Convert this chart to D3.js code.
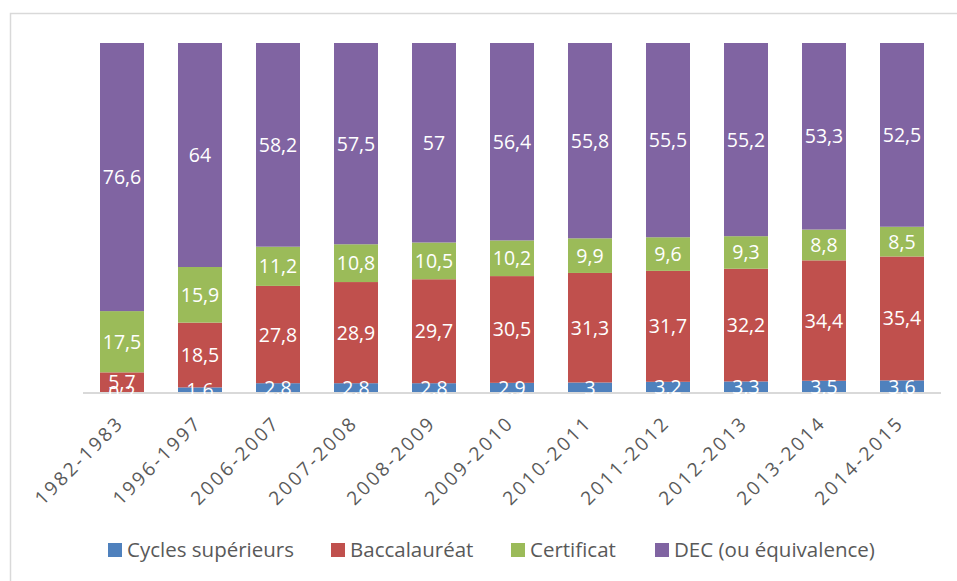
<!DOCTYPE html>
<html>
<head>
<meta charset="utf-8">
<script src="https://cdn.jsdelivr.net/npm/d3@7"></script>
<style>
  body { margin: 0; background: #fff; }
  text { font-family: "Open Sans", sans-serif; }
</style>
</head>
<body>
<div id="chart"></div>
<script>
// data
var years = ['1982-1983', '1996-1997', '2006-2007', '2007-2008', '2008-2009', '2009-2010',
    '2010-2011', '2011-2012', '2012-2013', '2013-2014', '2014-2015'];
var cycles = [0.2, 1.6, 2.8, 2.8, 2.8, 2.9, 3, 3.2, 3.3, 3.5, 3.6];
var bacc = [5.7, 18.5, 27.8, 28.9, 29.7, 30.5, 31.3, 31.7, 32.2, 34.4, 35.4];
var certificat = [17.5, 15.9, 11.2, 10.8, 10.5, 10.2, 9.9, 9.6, 9.3, 8.8, 8.5];
var dec = [76.6, 64, 58.2, 57.5, 57, 56.4, 55.8, 55.5, 55.2, 53.3, 52.5];

var seriesNames = ['Cycles supérieurs', 'Baccalauréat', 'Certificat', 'DEC (ou équivalence)'];
var seriesValues = [cycles, bacc, certificat, dec];
var colors = ['#4f81bd', '#c0504d', '#9bbb59', '#8064a2'];

var svgWidth = 957;
var svgHeight = 581;

var margins = { top: 43, left: 83, right: 16, bottom: 188 };
var width = svgWidth - margins.left - margins.right;
var height = svgHeight - margins.top - margins.bottom;

var svg = d3.select('#chart')
    .append('svg')
    .attr('width', svgWidth)
    .attr('height', svgHeight);

// outer frame
svg.append('rect')
    .attr('x', 10.5)
    .attr('y', 13.5)
    .attr('width', 1200)
    .attr('height', 1200)
    .attr('fill', 'none')
    .attr('stroke', '#d9d9d9')
    .attr('stroke-width', 1.5);

var chartGroup = svg.append('g')
    .attr('transform', `translate(${margins.left},${margins.top})`);

var rows = years.map(function (y, i) {
    var r = { year: y };
    seriesNames.forEach(function (s, j) { r[s] = seriesValues[j][i]; });
    return r;
});

var stacked = d3.stack().keys(seriesNames)(rows);

var xScale = d3.scaleBand()
    .domain(years)
    .range([0, width])
    .paddingInner(0.436)
    .paddingOuter(0.218);

var yScale = d3.scaleLinear()
    .domain([0, 100])
    .range([height, 0]);

var layers = chartGroup.selectAll('.layer')
    .data(stacked)
    .enter()
    .append('g')
    .attr('fill', (d, i) => colors[i]);

layers.selectAll('rect')
    .data(d => d)
    .enter()
    .append('rect')
    .attr('x', d => xScale(d.data.year))
    .attr('y', d => yScale(d[1]))
    .attr('width', xScale.bandwidth())
    .attr('height', d => yScale(d[0]) - yScale(d[1]));

// axis line
chartGroup.append('line')
    .attr('x1', 0)
    .attr('x2', width)
    .attr('y1', height)
    .attr('y2', height)
    .attr('stroke', '#d9d9d9')
    .attr('stroke-width', 2);

// value labels, drawn on top of the axis line
var labelLayers = chartGroup.selectAll('.labels')
    .data(stacked)
    .enter()
    .append('g');

labelLayers.selectAll('text')
    .data(d => d)
    .enter()
    .append('text')
    .attr('x', d => xScale(d.data.year) + xScale.bandwidth() / 2)
    .attr('y', d => (yScale(d[0]) + yScale(d[1])) / 2)
    .attr('dy', '0.36em')
    .attr('text-anchor', 'middle')
    .attr('fill', '#fff')
    .attr('font-size', 19.5)
    .text(d => String(+(d[1] - d[0]).toFixed(1)).replace('.', ','));

// x tick labels
var bottomAxis = d3.axisBottom(xScale).tickSize(0).tickPadding(0);
var xAxis = chartGroup.append('g')
    .attr('transform', `translate(0, ${height})`)
    .call(bottomAxis);
xAxis.select('.domain').remove();
xAxis.selectAll('text')
    .attr('font-family', '"Open Sans", sans-serif')
    .attr('font-size', 19)
    .attr('fill', '#595959')
    .attr('letter-spacing', 2.6)
    .attr('text-anchor', 'end')
    .attr('dy', null)
    .attr('y', 0)
    .attr('transform', 'translate(3,31) rotate(-45)');

// legend
var legendX = [108, 331, 511, 655];
var legend = svg.append('g')
    .attr('transform', 'translate(0,550)');
var items = legend.selectAll('g')
    .data(seriesNames)
    .enter()
    .append('g')
    .attr('transform', (d, i) => `translate(${legendX[i]},0)`);
items.append('rect')
    .attr('x', 0)
    .attr('y', -7)
    .attr('width', 14)
    .attr('height', 14)
    .attr('fill', (d, i) => colors[i]);
items.append('text')
    .attr('x', 19)
    .attr('y', 0)
    .attr('dy', '0.36em')
    .attr('font-size', 20.5)
    .attr('fill', '#595959')
    .text(d => d);
</script>
</body>
</html>
